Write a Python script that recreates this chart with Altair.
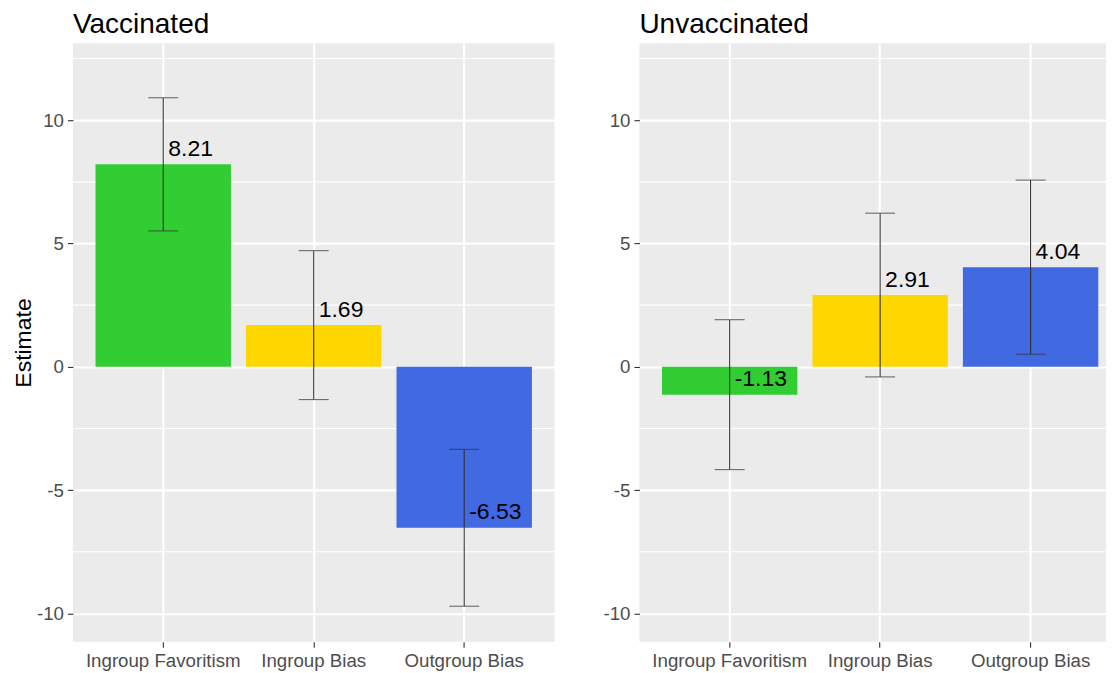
import altair as alt
import pandas as pd

CATEGORIES = ["Ingroup Favoritism", "Ingroup Bias", "Outgroup Bias"]
VAX_EST = [8.21, 1.69, -6.53]
VAX_LO = [5.51, -1.33, -9.71]
VAX_HI = [10.91, 4.71, -3.35]
UNVAX_EST = [-1.13, 2.91, 4.04]
UNVAX_LO = [-4.17, -0.41, 0.51]
UNVAX_HI = [1.91, 6.23, 7.57]
BAR_COLORS = ["#32CD32", "#FFD700", "#4169E1"]
MAJOR_BREAKS = [-10, -5, 0, 5, 10]
MINOR_BREAKS = [-7.5, -2.5, 2.5, 7.5, 12.5]
Y_DOMAIN = [-11.15, 13.12]

FONT = "Liberation Sans"


def panel(title, est, lo, hi, width, pad_outer, align, y_title):
    df = pd.DataFrame({
        "cat": CATEGORIES,
        "est": est,
        "lo": lo,
        "hi": hi,
        "label": [f"{v:.2f}" for v in est],
    })
    xscale = alt.Scale(domain=CATEGORIES, paddingInner=0.1,
                       paddingOuter=pad_outer, align=align)
    yscale = alt.Scale(domain=Y_DOMAIN, nice=False, zero=False)
    xaxis = alt.Axis(title=None, labelAngle=0, grid=True, labelPadding=4.5)
    if y_title:
        yaxis = alt.Axis(values=MAJOR_BREAKS, grid=True, labelPadding=4,
                         labelExpr="'' + datum.value",
                         title=y_title, titlePadding=1)
    else:
        yaxis = alt.Axis(values=MAJOR_BREAKS, grid=True, labelPadding=4,
                         labelExpr="'' + datum.value", title=None)

    def X():
        return alt.X("cat:N", scale=xscale, sort=CATEGORIES, axis=xaxis)

    def Y(field):
        return alt.Y(field, scale=yscale, axis=yaxis)

    minor = alt.Chart(pd.DataFrame({"v": MINOR_BREAKS})).mark_rule(
        color="white", strokeWidth=1.1
    ).encode(y=Y("v:Q"))

    base = alt.Chart(df)
    bars = base.mark_bar().encode(
        x=X(), y=Y("est:Q"), y2=alt.datum(0),
        color=alt.Color("cat:N", scale=alt.Scale(domain=CATEGORIES, range=BAR_COLORS), legend=None),
    )
    err = base.mark_rule(color="#333333", strokeWidth=1.1).encode(
        x=X(), y=Y("lo:Q"), y2="hi:Q",
    )
    cap_lo = base.mark_tick(color="#333333", size=30, thickness=1.1).encode(
        x=X(), y=Y("lo:Q"),
    )
    cap_hi = base.mark_tick(color="#333333", size=30, thickness=1.1).encode(
        x=X(), y=Y("hi:Q"),
    )
    text = base.mark_text(align="left", baseline="alphabetic", dx=5, dy=-8.5,
                          fontSize=23, font=FONT, color="black").encode(
        x=X(), y=Y("est:Q"), text="label:N",
    )
    return alt.layer(minor, bars, err, cap_lo, cap_hi, text).properties(
        width=width, height=599,
        title=alt.TitleParams(title, anchor="start", frame="group", fontSize=28,
                              font=FONT, fontWeight="normal", color="black",
                              baseline="alphabetic", offset=-18),
    )


left = panel("Vaccinated", VAX_EST, VAX_LO, VAX_HI, 482, 0.15, 0.5, "Estimate")
right = panel("Unvaccinated", UNVAX_EST, UNVAX_LO, UNVAX_HI, 467, 0.1005, 0.745, None)

chart = alt.hconcat(left, right, spacing=47).properties(
    padding={"left": 4, "top": 3, "right": 0, "bottom": 0}
).configure_view(
    fill="#EBEBEB", strokeWidth=0
).configure_axis(
    labelFont=FONT, labelFontSize=18.7, labelColor="#4D4D4D",
    tickColor="#333333", tickSize=5.5, tickWidth=1.1,
    domain=False, gridColor="white", gridWidth=2.2,
    titleFont=FONT, titleFontSize=23, titleColor="black", titleFontWeight="normal",
)

chart.save("out.html", embed_options={"renderer": "svg", "actions": False})
